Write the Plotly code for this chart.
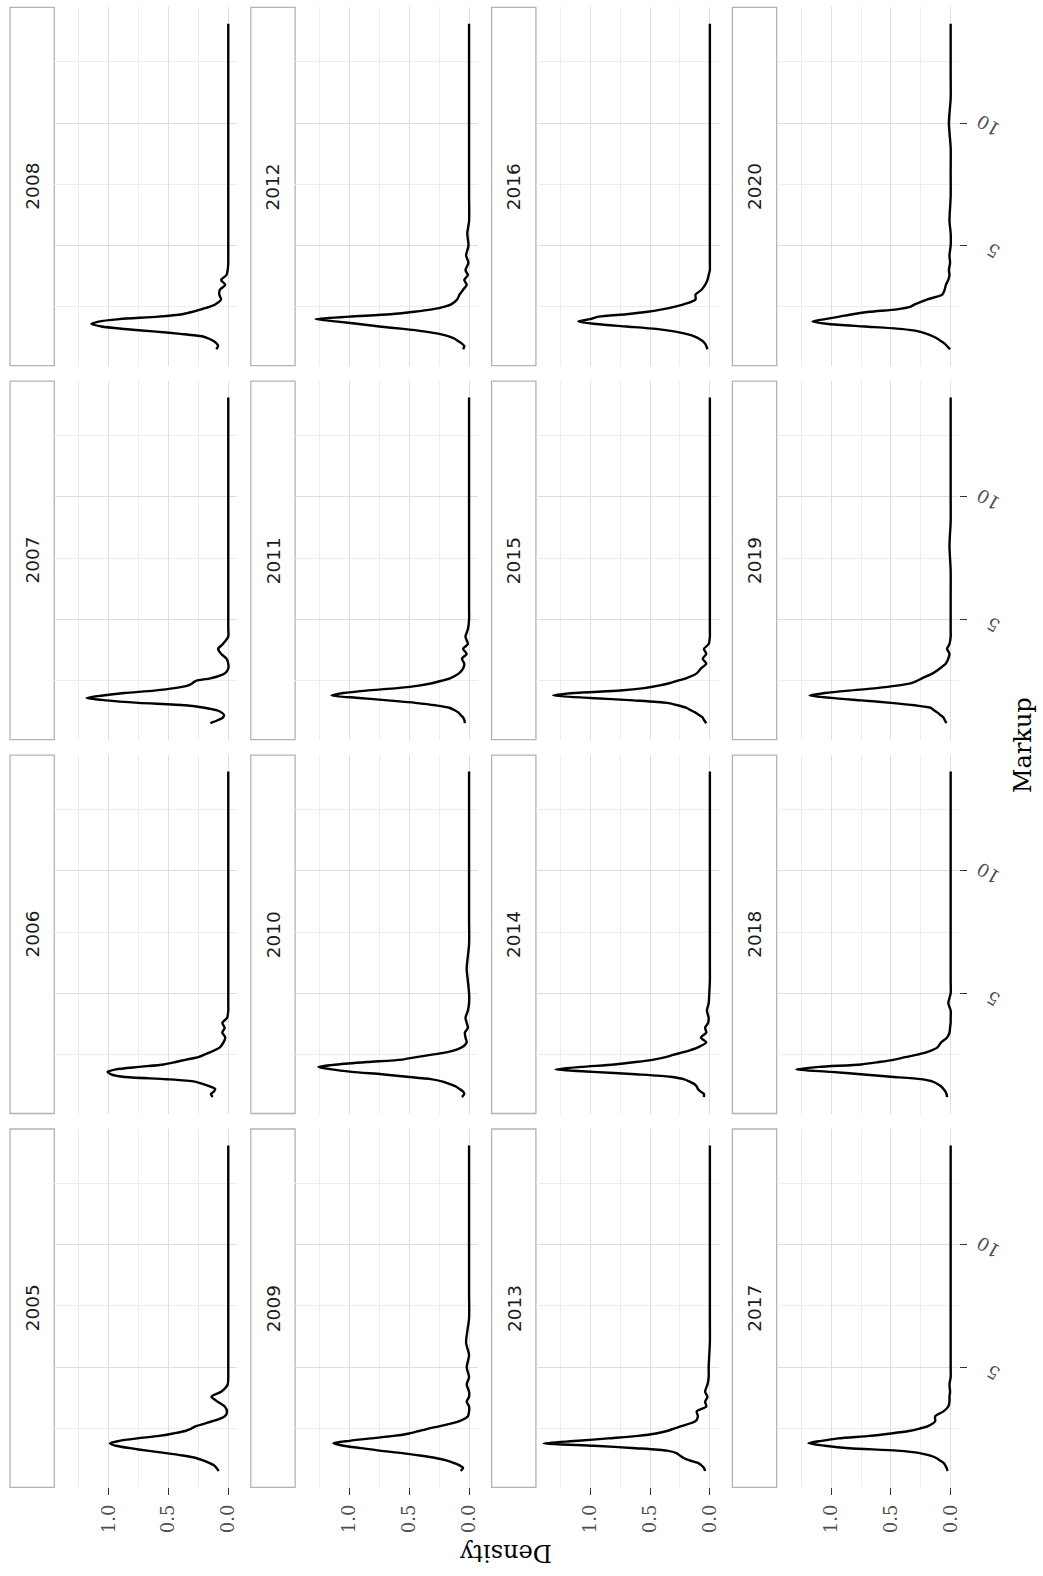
import plotly.graph_objects as go

W, H = 1043, 1576

# ---- data -------------------------------------------------------------
YEARS = list(range(2005, 2021))

MARKUP = [0.77, 0.9, 1.0, 1.1, 1.2, 1.3, 1.4, 1.5, 1.6, 1.7,
          1.8, 1.9, 2.0, 2.1, 2.2, 2.3, 2.4, 2.5, 2.6, 2.8,
          3.0, 3.2, 3.4, 3.6, 3.8, 4.0, 4.3, 4.6, 5.0, 5.5,
          6.0, 7.0, 8.0, 9.0, 10.0, 11.0, 12.0, 13.0, 14.05]

d2005 = [0.08, 0.10, 0.12, 0.16, 0.21, 0.27, 0.38, 0.52, 0.68, 0.82,
         0.94, 0.99, 0.91, 0.76, 0.58, 0.46, 0.36, 0.31, 0.27, 0.13,
         0.03, 0.01, 0.03, 0.09, 0.14, 0.06, 0.005, 0.0, 0.0, 0.0,
         0.0, 0.0, 0.0, 0.0, 0.0, 0.0, 0.0, 0.0, 0.0]
d2006 = [0.13, 0.145, 0.12, 0.11, 0.15, 0.21, 0.28, 0.52, 0.88, 0.98,
         1.01, 0.94, 0.75, 0.54, 0.44, 0.35, 0.25, 0.2, 0.15, 0.07,
         0.04, 0.025, 0.05, 0.03, 0.05, 0.01, 0.0, 0.0, 0.0, 0.0,
         0.0, 0.0, 0.0, 0.0, 0.0, 0.0, 0.0, 0.0, 0.0]
d2007 = [0.15, 0.085, 0.045, 0.035, 0.055, 0.1, 0.2, 0.36, 0.75, 1.02,
         1.185, 1.05, 0.87, 0.62, 0.45, 0.34, 0.3, 0.27, 0.15, 0.03,
         0.0, 0.0, 0.015, 0.06, 0.085, 0.045, 0.0, 0.0, 0.0, 0.0,
         0.0, 0.0, 0.0, 0.0, 0.0, 0.0, 0.0, 0.0, 0.0]
d2008 = [0.10, 0.085, 0.095, 0.12, 0.16, 0.22, 0.4, 0.63, 0.87, 1.06,
         1.145, 1.085, 0.91, 0.585, 0.385, 0.295, 0.225, 0.16, 0.11, 0.06,
         0.075, 0.07, 0.025, 0.06, 0.015, 0.005, 0.0, 0.0, 0.0, 0.0,
         0.0, 0.0, 0.0, 0.0, 0.0, 0.0, 0.0, 0.0, 0.0]
d2009 = [0.07, 0.05, 0.08, 0.13, 0.19, 0.28, 0.41, 0.56, 0.75, 0.9,
         1.05, 1.135, 1.0, 0.82, 0.63, 0.5, 0.42, 0.34, 0.24, 0.08,
         0.01, 0.0, 0.0, 0.02, 0.0, 0.0, 0.02, 0.0, 0.02, 0.0,
         0.025, 0.0, 0.0, 0.0, 0.0, 0.0, 0.0, 0.0, 0.0]
d2010 = [0.06, 0.04, 0.05, 0.08, 0.11, 0.16, 0.22, 0.32, 0.52, 0.73,
         0.98, 1.15, 1.26, 1.1, 0.85, 0.56, 0.44, 0.31, 0.18, 0.06,
         0.02, 0.03, 0.035, 0.01, 0.02, 0.03, 0.01, 0.0, 0.0, 0.01,
         0.02, 0.0, 0.0, 0.0, 0.0, 0.0, 0.0, 0.0, 0.0]
d2011 = [0.035, 0.04, 0.05, 0.07, 0.088, 0.12, 0.165, 0.28, 0.45, 0.68,
         0.92, 1.15, 1.05, 0.86, 0.6, 0.42, 0.31, 0.23, 0.16, 0.085,
         0.05, 0.04, 0.06, 0.02, 0.05, 0.01, 0.03, 0.01, 0.0, 0.0,
         0.0, 0.0, 0.0, 0.0, 0.0, 0.0, 0.0, 0.0, 0.0]
d2012 = [0.05, 0.04, 0.06, 0.09, 0.12, 0.17, 0.25, 0.38, 0.55, 0.75,
         0.92, 1.1, 1.285, 1.0, 0.66, 0.46, 0.31, 0.21, 0.15, 0.1,
         0.08, 0.05, 0.02, 0.04, 0.01, 0.03, 0.005, 0.025, 0.005, 0.015,
         0.0, 0.0, 0.0, 0.0, 0.0, 0.0, 0.0, 0.0, 0.0]
d2013 = [0.04, 0.05, 0.07, 0.1, 0.17, 0.22, 0.25, 0.28, 0.36, 0.62,
         0.97, 1.39, 1.1, 0.85, 0.6, 0.45, 0.36, 0.3, 0.24, 0.12,
         0.1, 0.11, 0.03, 0.04, 0.02, 0.04, 0.02, 0.01, 0.01, 0.005,
         0.0, 0.0, 0.0, 0.0, 0.0, 0.0, 0.0, 0.0, 0.0]
d2014 = [0.05, 0.05, 0.08, 0.1, 0.11, 0.13, 0.17, 0.22, 0.33, 0.62,
         0.98, 1.29, 1.08, 0.8, 0.62, 0.47, 0.37, 0.3, 0.22, 0.1,
         0.03, 0.075, 0.03, 0.04, 0.015, 0.01, 0.025, 0.01, 0.005, 0.0,
         0.0, 0.0, 0.0, 0.0, 0.0, 0.0, 0.0, 0.0, 0.0]
d2015 = [0.03, 0.05, 0.06, 0.09, 0.12, 0.16, 0.2, 0.27, 0.36, 0.64,
         1.0, 1.31, 1.14, 0.75, 0.55, 0.43, 0.34, 0.27, 0.2, 0.11,
         0.075, 0.03, 0.06, 0.03, 0.05, 0.01, 0.0, 0.0, 0.0, 0.0,
         0.0, 0.0, 0.0, 0.0, 0.0, 0.0, 0.0, 0.0, 0.0]
d2016 = [0.02, 0.03, 0.04, 0.06, 0.09, 0.13, 0.2, 0.3, 0.45, 0.7,
         0.95, 1.1, 1.0, 0.93, 0.7, 0.52, 0.4, 0.3, 0.22, 0.12,
         0.12, 0.07, 0.04, 0.02, 0.01, 0.0, 0.0, 0.0, 0.0, 0.0,
         0.0, 0.0, 0.0, 0.0, 0.0, 0.0, 0.0, 0.0, 0.0]
d2017 = [0.025, 0.035, 0.045, 0.06, 0.09, 0.12, 0.17, 0.26, 0.45, 0.85,
         1.05, 1.19, 1.08, 0.94, 0.68, 0.5, 0.35, 0.26, 0.19, 0.13,
         0.13, 0.06, 0.02, 0.01, 0.01, 0.005, 0.01, 0.0, 0.0, 0.0,
         0.0, 0.0, 0.0, 0.0, 0.0, 0.0, 0.0, 0.0, 0.0]
d2018 = [0.03, 0.035, 0.045, 0.06, 0.08, 0.11, 0.15, 0.25, 0.5, 0.75,
         1.0, 1.29, 1.1, 0.75, 0.6, 0.47, 0.38, 0.28, 0.2, 0.11,
         0.08, 0.03, 0.01, 0.005, 0.0, 0.0, 0.0, 0.02, 0.0, 0.0,
         0.0, 0.0, 0.0, 0.0, 0.0, 0.0, 0.0, 0.0, 0.0]
d2019 = [0.035, 0.05, 0.06, 0.085, 0.11, 0.14, 0.17, 0.3, 0.5, 0.75,
         1.0, 1.18, 1.05, 0.85, 0.62, 0.45, 0.33, 0.28, 0.24, 0.15,
         0.09, 0.04, 0.02, 0.01, 0.03, 0.01, 0.0, 0.0, 0.0, 0.0,
         0.0, 0.0, 0.01, 0.0, 0.0, 0.0, 0.0, 0.0, 0.0]
d2020 = [0.005, 0.03, 0.05, 0.08, 0.11, 0.15, 0.2, 0.27, 0.42, 0.72,
         1.02, 1.155, 1.05, 0.93, 0.82, 0.68, 0.45, 0.34, 0.3, 0.2,
         0.07, 0.05, 0.04, 0.02, 0.01, 0.015, 0.005, 0.01, 0.0, 0.0,
         0.01, 0.0, 0.0, 0.0, 0.015, 0.0, 0.0, 0.0, 0.0]

DENSITY_TICKS = [0.0, 0.5, 1.0]
DENSITY_LABELS = ["0.0", "0.5", "1.0"]
DENSITY_MINOR = [0.25, 0.75, 1.25]
MARKUP_TICKS = [5, 10]
MARKUP_LABELS = ["5", "10"]
MARKUP_MINOR = [2.5, 7.5, 12.5]

series = {
    2005: d2005, 2006: d2006, 2007: d2007, 2008: d2008,
    2009: d2009, 2010: d2010, 2011: d2011, 2012: d2012,
    2013: d2013, 2014: d2014, 2015: d2015, 2016: d2016,
    2017: d2017, 2018: d2018, 2019: d2019, 2020: d2020,
}

# ---- panel geometry (pixels) -------------------------------------------
STRIP_X0 = 10.0
PANEL_X0 = 54.3
PANEL_X1 = 237.0
COL_STEP = 240.8
PANEL_Y0 = 7.3
PANEL_Y1 = 365.7
ROW_STEP = 373.9

DENSITY_RANGE = [1.455, -0.073]
MARKUP_RANGE = [0.1, 14.72]

SERIF = "DejaVu Serif"
SANS = "DejaVu Sans"
GRID_MAJOR = "#DEDEDE"
GRID_MINOR = "#EDEDED"

fig = go.Figure()
layout_axes = {}
shapes = []
annotations = []

for k, year in enumerate(YEARS):
    r, c = divmod(k, 4)
    col = r          # facet rows run left to right
    row = 3 - c      # facet columns run bottom to top
    n = k + 1
    xa = "x" if n == 1 else f"x{n}"
    ya = "y" if n == 1 else f"y{n}"

    x0 = PANEL_X0 + col * COL_STEP
    x1 = PANEL_X1 + col * COL_STEP
    y0 = PANEL_Y0 + row * ROW_STEP
    y1 = PANEL_Y1 + row * ROW_STEP
    bottom = row == 3
    right = col == 3

    fig.add_trace(go.Scatter(
        x=series[year], y=MARKUP, xaxis=xa, yaxis=ya, mode="lines",
        line=dict(color="black", width=2.4, shape="spline", smoothing=0.7),
        hoverinfo="skip", showlegend=False,
    ))

    layout_axes["xaxis" if n == 1 else f"xaxis{n}"] = dict(
        domain=[x0 / W, x1 / W], anchor=ya, range=DENSITY_RANGE,
        tickmode="array", tickvals=DENSITY_TICKS, ticktext=DENSITY_LABELS,
        showticklabels=bottom, ticks="outside" if bottom else "",
        ticklen=7, tickwidth=1.4, tickcolor="#333333", tickangle=-90,
        tickfont=dict(family=SERIF, size=18, color="#4D4D4D"),
        ticklabelstandoff=2,
        showgrid=True, gridcolor=GRID_MAJOR, gridwidth=1.4,
        minor=dict(tickvals=DENSITY_MINOR, showgrid=True,
                   gridcolor=GRID_MINOR, gridwidth=1.1),
        zeroline=False, showline=False, fixedrange=True,
    )
    layout_axes["yaxis" if n == 1 else f"yaxis{n}"] = dict(
        domain=[1 - y1 / H, 1 - y0 / H], anchor=xa, side="right",
        range=MARKUP_RANGE,
        tickmode="array", tickvals=MARKUP_TICKS, ticktext=MARKUP_LABELS,
        showticklabels=right, ticks="outside" if right else "",
        ticklen=7, tickwidth=1.4, tickcolor="#333333", tickangle=-150,
        tickfont=dict(family=SERIF, size=18, color="#4D4D4D"),
        ticklabelstandoff=26, ticklabelshift=13,
        showgrid=True, gridcolor=GRID_MAJOR, gridwidth=1.4,
        minor=dict(tickvals=MARKUP_MINOR, showgrid=True,
                   gridcolor=GRID_MINOR, gridwidth=1.1),
        zeroline=False, showline=False, fixedrange=True,
    )

    # facet strip
    sx0 = STRIP_X0 + col * COL_STEP
    shapes.append(dict(
        type="rect", xref="paper", yref="paper",
        x0=sx0 / W, x1=x0 / W, y0=1 - y1 / H, y1=1 - y0 / H,
        line=dict(color="#B3B3B3", width=1.3), fillcolor="white", layer="below",
    ))
    annotations.append(dict(
        text=str(year), xref="paper", yref="paper",
        x=(sx0 + x0) / 2 / W, y=1 - (y0 + y1) / 2 / H,
        showarrow=False, textangle=-90, xanchor="center", yanchor="middle",
        font=dict(family=SANS, size=18.5, color="#1A1A1A"),
    ))

# axis titles
annotations.append(dict(
    text="Density", xref="paper", yref="paper", x=506 / W, y=1 - 1553 / H,
    showarrow=False, textangle=180, xanchor="center", yanchor="middle",
    font=dict(family=SERIF, size=24, color="black"),
))
annotations.append(dict(
    text="Markup", xref="paper", yref="paper", x=1023 / W, y=1 - 745 / H,
    showarrow=False, textangle=-90, xanchor="center", yanchor="middle",
    font=dict(family=SERIF, size=24, color="black"),
))

fig.update_layout(
    width=W, height=H, margin=dict(l=0, r=0, t=0, b=0),
    paper_bgcolor="white", plot_bgcolor="white",
    shapes=shapes, annotations=annotations, showlegend=False,
    **layout_axes,
)

fig.write_html("out.html")
